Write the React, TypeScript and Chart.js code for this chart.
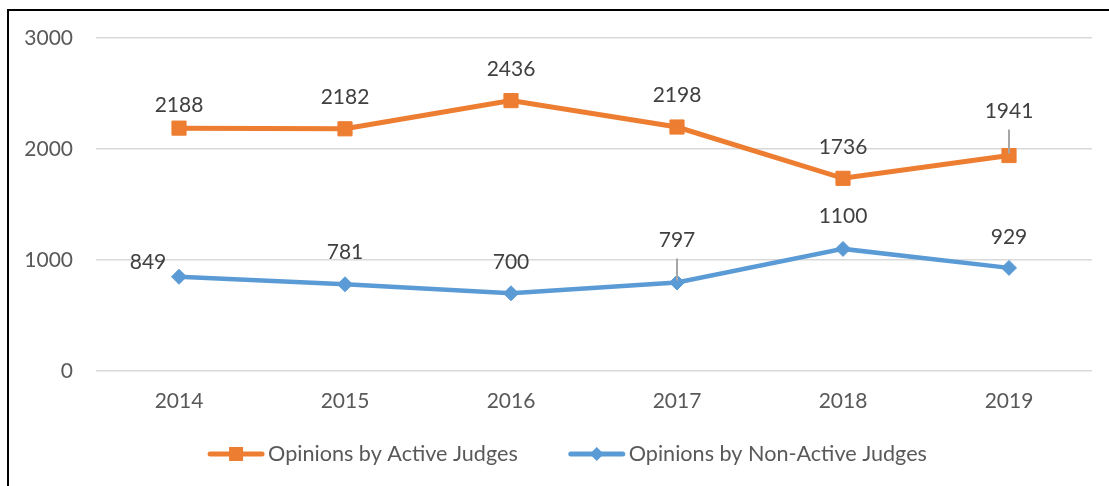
import React, { useEffect, useRef } from "react";
import { Chart, registerables } from "chart.js";

Chart.register(...registerables);

const years = ["2014", "2015", "2016", "2017", "2018", "2019"];
const activeJudges = [2188, 2182, 2436, 2198, 1736, 1941];
const nonActiveJudges = [849, 781, 700, 797, 1100, 929];
const yTickValues = [0, 1000, 2000, 3000];
const seriesNames = ["Opinions by Active Judges", "Opinions by Non-Active Judges"];
const seriesColors = ["#ED7D31", "#5B9BD5"];
// label offsets [dx, dy] relative to each point (style only)
const activeLabelShift = [[0, -23], [0, -32], [0, -31], [0, -32], [0, -31], [0, -44]];
const nonActiveLabelShift = [[-31, -15], [0, -32], [0, -31], [0, -42], [0, -33], [0, -31]];

const FONT = "Lato, 'Open Sans', sans-serif";
const FONT_SIZE = 21;

const labelPlugin = {
  id: "valueLabels",
  afterDatasetsDraw(chart: any) {
    const ctx = chart.ctx;
    const shifts = [activeLabelShift, nonActiveLabelShift];
    ctx.save();
    chart.data.datasets.forEach((ds: any, di: number) => {
      const meta = chart.getDatasetMeta(di);
      meta.data.forEach((pt: any, i: number) => {
        const [dx, dy] = shifts[di][i];
        const lx = pt.x + dx;
        const ly = pt.y + dy;
        if (dy < -40) {
          ctx.strokeStyle = "#A6A6A6";
          ctx.lineWidth = 2;
          ctx.beginPath();
          ctx.moveTo(pt.x, ly + 18);
          ctx.lineTo(pt.x, pt.y - 2);
          ctx.stroke();
        }
        ctx.fillStyle = "#404040";
        ctx.font = `${FONT_SIZE}px ${FONT}`;
        ctx.textAlign = "center";
        ctx.textBaseline = "middle";
        ctx.fillText(String(ds.data[i]), lx, ly);
      });
    });
    ctx.restore();
  },
};

const legendPlugin = {
  id: "lineLegend",
  afterDraw(chart: any) {
    const ctx = chart.ctx;
    ctx.save();
    ctx.font = `21.6px ${FONT}`;
    const lineW = 56;
    const textGap = 4;
    const itemGap = 51;
    const widths = seriesNames.map((n) => lineW + textGap + ctx.measureText(n).width);
    const total = widths.reduce((a, b) => a + b, 0) + itemGap * (seriesNames.length - 1);
    let x = chart.width / 2 + 13 - total / 2;
    const y = chart.height - 32;
    seriesNames.forEach((name, i) => {
      const color = seriesColors[i];
      ctx.strokeStyle = color;
      ctx.lineWidth = 5;
      ctx.lineCap = "round";
      ctx.beginPath();
      ctx.moveTo(x + 2, y);
      ctx.lineTo(x + lineW - 2, y);
      ctx.stroke();
      ctx.fillStyle = color;
      const cx = x + lineW / 2;
      if (i === 0) {
        ctx.fillRect(cx - 7, y - 7, 14, 14);
      } else {
        ctx.beginPath();
        ctx.moveTo(cx, y - 7);
        ctx.lineTo(cx + 7, y);
        ctx.lineTo(cx, y + 7);
        ctx.lineTo(cx - 7, y);
        ctx.closePath();
        ctx.fill();
      }
      ctx.fillStyle = "#595959";
      ctx.textAlign = "left";
      ctx.textBaseline = "middle";
      ctx.fillText(name, x + lineW + textGap, y);
      x += widths[i] + itemGap;
    });
    ctx.restore();
  },
};

export default function App() {
  const canvasRef = useRef<HTMLCanvasElement | null>(null);

  useEffect(() => {
    const canvas = canvasRef.current;
    if (!canvas) return;
    const chart = new Chart(canvas, {
      type: "line",
      data: {
        labels: years,
        datasets: [
          {
            label: seriesNames[0],
            data: activeJudges,
            borderColor: seriesColors[0],
            backgroundColor: seriesColors[0],
            borderWidth: 5,
            pointStyle: "rect",
            pointRadius: 10,
            pointBorderWidth: 1,
            pointBackgroundColor: seriesColors[0],
            pointBorderColor: seriesColors[0],
            tension: 0,
          },
          {
            label: seriesNames[1],
            data: nonActiveJudges,
            borderColor: seriesColors[1],
            backgroundColor: seriesColors[1],
            borderWidth: 4.5,
            pointStyle: "rectRot",
            pointRadius: 7.5,
            pointBorderWidth: 1,
            pointBackgroundColor: seriesColors[1],
            pointBorderColor: seriesColors[1],
            tension: 0,
          },
        ],
      },
      options: {
        animation: false,
        responsive: false,
        maintainAspectRatio: false,
        layout: { padding: { left: 0, right: 17, top: 38, bottom: 0 } },
        plugins: {
          legend: { display: false },
          tooltip: { enabled: false },
        },
        scales: {
          x: {
            offset: true,
            grid: { display: false, drawTicks: false },
            border: { display: false },
            ticks: {
              color: "#595959",
              font: { family: FONT, size: FONT_SIZE },
              padding: 18,
            },
            afterFit(scale: any) {
              scale.height = 115;
            },
          },
          y: {
            min: 0,
            max: 3000,
            afterBuildTicks(scale: any) {
              scale.ticks = yTickValues.map((v) => ({ value: v }));
            },
            grid: { color: "#D9D9D9", lineWidth: 1.5, drawTicks: false },
            border: { display: false },
            ticks: {
              color: "#595959",
              font: { family: FONT, size: FONT_SIZE },
              padding: 23,
              callback: (v: any) => String(v),
            },
            afterFit(scale: any) {
              scale.width = 96;
            },
          },
        },
      },
      plugins: [labelPlugin, legendPlugin],
    });
    return () => chart.destroy();
  }, []);

  return (
    <div style={{ position: "fixed", left: 0, top: 0, width: 1109, height: 486, background: "#fff", overflow: "hidden" }}>
      <div
        style={{
          position: "absolute",
          left: 7,
          top: 9,
          width: 1200,
          height: 600,
          borderLeft: "2px solid #000",
          borderTop: "2px solid #000",
        }}
      />
      <canvas ref={canvasRef} width={1109} height={486} style={{ position: "absolute", left: 0, top: 0, width: 1109, height: 486 }} />
    </div>
  );
}
